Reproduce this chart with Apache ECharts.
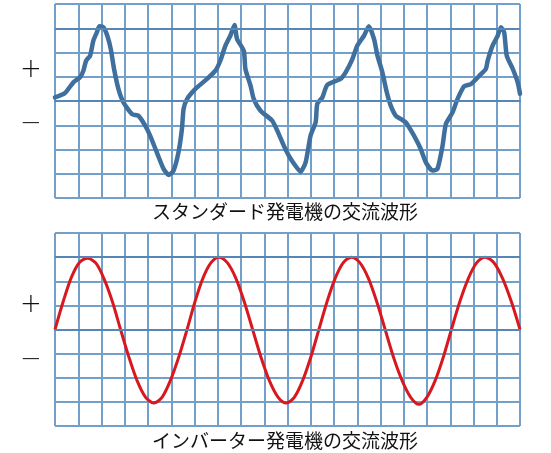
<!DOCTYPE html>
<html><head><meta charset="utf-8">
<script src="https://cdn.jsdelivr.net/npm/echarts@6/dist/echarts.min.js"></script>
<style>html,body{margin:0;padding:0;background:#fff}#c{width:551px;height:453px}</style>
</head><body><div id="c"></div>
<script>
// Captions and sign labels
const titles = ['スタンダード発電機の交流波形', 'インバーター発電機の交流波形'];
const signLabels = ['+', '−'];
// Grid: 20 columns, rows -4..4
const xTicks = { min: 0, max: 20, step: 1 };
const yTicks = { min: -4, max: 4, step: 1 };

// Standard generator (hand-drawn, jagged) [column, level]
const standardWave = [
  [0,0.15],[0.43,0.33],[0.79,0.77],[1.08,0.98],[1.22,1.25],[1.34,1.66],[1.51,1.87],[1.65,2.49],[1.8,2.83],[1.91,3.08],
  [2.08,3.04],[2.25,2.69],[2.4,2.14],[2.54,1.32],[2.73,0.49],[2.94,-0.05],[3.31,-0.54],[3.59,-0.61],[3.88,-1.02],[4.09,-1.43],
  [4.38,-2.12],[4.67,-2.8],[4.9,-3.05],[5.1,-2.87],[5.31,-2.12],[5.46,-1.15],[5.53,-0.33],[5.68,0.08],[6.03,0.49],[6.54,0.91],
  [6.9,1.25],[7.11,1.66],[7.33,2.28],[7.54,2.69],[7.72,3.13],[7.83,2.56],[8.12,2.07],[8.19,1.32],[8.41,0.63],[8.55,0.08],
  [8.84,-0.4],[9.34,-0.81],[9.56,-1.22],[9.84,-1.84],[10.06,-2.26],[10.34,-2.67],[10.56,-2.92],[10.78,-2.53],[10.99,-1.43],[11.21,-0.88],
  [11.28,-0.12],[11.5,0.15],[11.71,0.66],[12.28,0.91],[12.5,1.18],[12.79,1.73],[13.0,2.28],[13.29,2.69],[13.5,3.08],[13.72,2.56],
  [13.87,1.87],[14.08,1.18],[14.27,0.36],[14.44,-0.19],[14.66,-0.61],[14.87,-0.74],[15.09,-0.88],[15.44,-1.43],[15.73,-1.98],[15.95,-2.53],
  [16.24,-2.87],[16.45,-2.8],[16.67,-1.84],[16.81,-0.95],[17.1,-0.47],[17.31,0.08],[17.6,0.61],[17.89,0.7],[18.25,1.04],[18.53,1.32],
  [18.61,1.66],[18.82,2.28],[19.04,2.69],[19.18,3.04],[19.32,2.83],[19.43,1.87],[19.69,1.32],[19.9,0.77],[20,0.3]
];

// Inverter generator (smooth sine) [column, level]
const inverterWave = [
  [0,0],[0.35,1.15],[0.7,2.15],[1.05,2.78],[1.4,2.95],[1.76,2.75],[2.11,2.1],[2.47,1.15],[2.82,0],
  [3.18,-1.15],[3.53,-2.12],[3.89,-2.8],[4.25,-3.05],[4.61,-2.8],[4.96,-2.12],[5.32,-1.15],[5.68,0],
  [6.02,1.15],[6.36,2.12],[6.71,2.77],[7.05,3.0],[7.41,2.77],[7.78,2.12],[8.14,1.15],[8.5,0],
  [8.86,-1.15],[9.22,-2.12],[9.59,-2.8],[9.95,-3.05],[10.3,-2.8],[10.65,-2.12],[11.0,-1.15],[11.35,0],
  [11.7,1.15],[12.05,2.12],[12.4,2.77],[12.75,3.0],[13.11,2.77],[13.48,2.12],[13.84,1.15],[14.2,0],
  [14.56,-1.15],[14.93,-2.12],[15.29,-2.8],[15.65,-3.1],[16.0,-2.8],[16.35,-2.12],[16.7,-1.15],[17.05,0],
  [17.41,1.15],[17.78,2.12],[18.14,2.77],[18.5,3.0],[18.88,2.77],[19.25,2.12],[19.63,1.15],[20,0]
];

const gridColor = '#72a0cb';
const darkGrid = '#5486b6';

function xAxisFor(i){
  return {
    type: 'value', gridIndex: i, min: xTicks.min, max: xTicks.max, interval: xTicks.step,
    axisLabel: {show:false}, axisTick: {show:false},
    axisLine: {show:true, lineStyle:{color: darkGrid, width: 2}},
    splitLine: {show:true, lineStyle:{color: gridColor, width: 2}}
  };
}
function yAxisFor(i){
  return {
    type: 'value', gridIndex: i, min: yTicks.min, max: yTicks.max, interval: yTicks.step,
    axisLabel: {show:false}, axisTick: {show:false}, axisLine: {show:false},
    splitLine: {show:true, lineStyle:{color: gridColor, width: 2}}
  };
}
const refLines = {
  silent: true, symbol: 'none', label: {show:false},
  lineStyle: {color: darkGrid, width: 2, type: 'solid'},
  data: [{yAxis: 0}, {yAxis: 3}]
};

const chart = echarts.init(document.getElementById('c'), null, {renderer: 'canvas'});
chart.setOption({
  animation: false,
  backgroundColor: '#ffffff',
  grid: [
    {left: 55, width: 465, top: 4, height: 194},
    {left: 55, width: 465, top: 233, height: 193}
  ],
  xAxis: [xAxisFor(0), xAxisFor(1)],
  yAxis: [yAxisFor(0), yAxisFor(1)],
  series: [
    {type:'line', xAxisIndex:0, yAxisIndex:0, data: standardWave, showSymbol:false, smooth:0.2,
     lineStyle:{color:'#3f6f9c', width:4.5, join:'round', cap:'round'}, markLine: refLines, z: 3},
    {type:'line', xAxisIndex:1, yAxisIndex:1, data: inverterWave, showSymbol:false, smooth:0.3,
     lineStyle:{color:'#d8181f', width:3}, markLine: refLines, z: 3}
  ],
  graphic: [
    {type:'text', left: 20, top: 57, style:{text: signLabels[0], font:'300 26px "DejaVu Sans"', fill:'#111'}},
    {type:'text', left: 20, top: 111, style:{text: signLabels[1], font:'300 26px "DejaVu Sans"', fill:'#111'}},
    {type:'text', left: 20, top: 292, style:{text: signLabels[0], font:'300 26px "DejaVu Sans"', fill:'#111'}},
    {type:'text', left: 20, top: 347, style:{text: signLabels[1], font:'300 26px "DejaVu Sans"', fill:'#111'}},
    {type:'text', left: 152, top: 202, style:{text: titles[0], font:'19px "Noto Sans CJK JP"', fill:'#111'}},
    {type:'text', left: 152, top: 431, style:{text: titles[1], font:'19px "Noto Sans CJK JP"', fill:'#111'}}
  ]
});
</script></body></html>
